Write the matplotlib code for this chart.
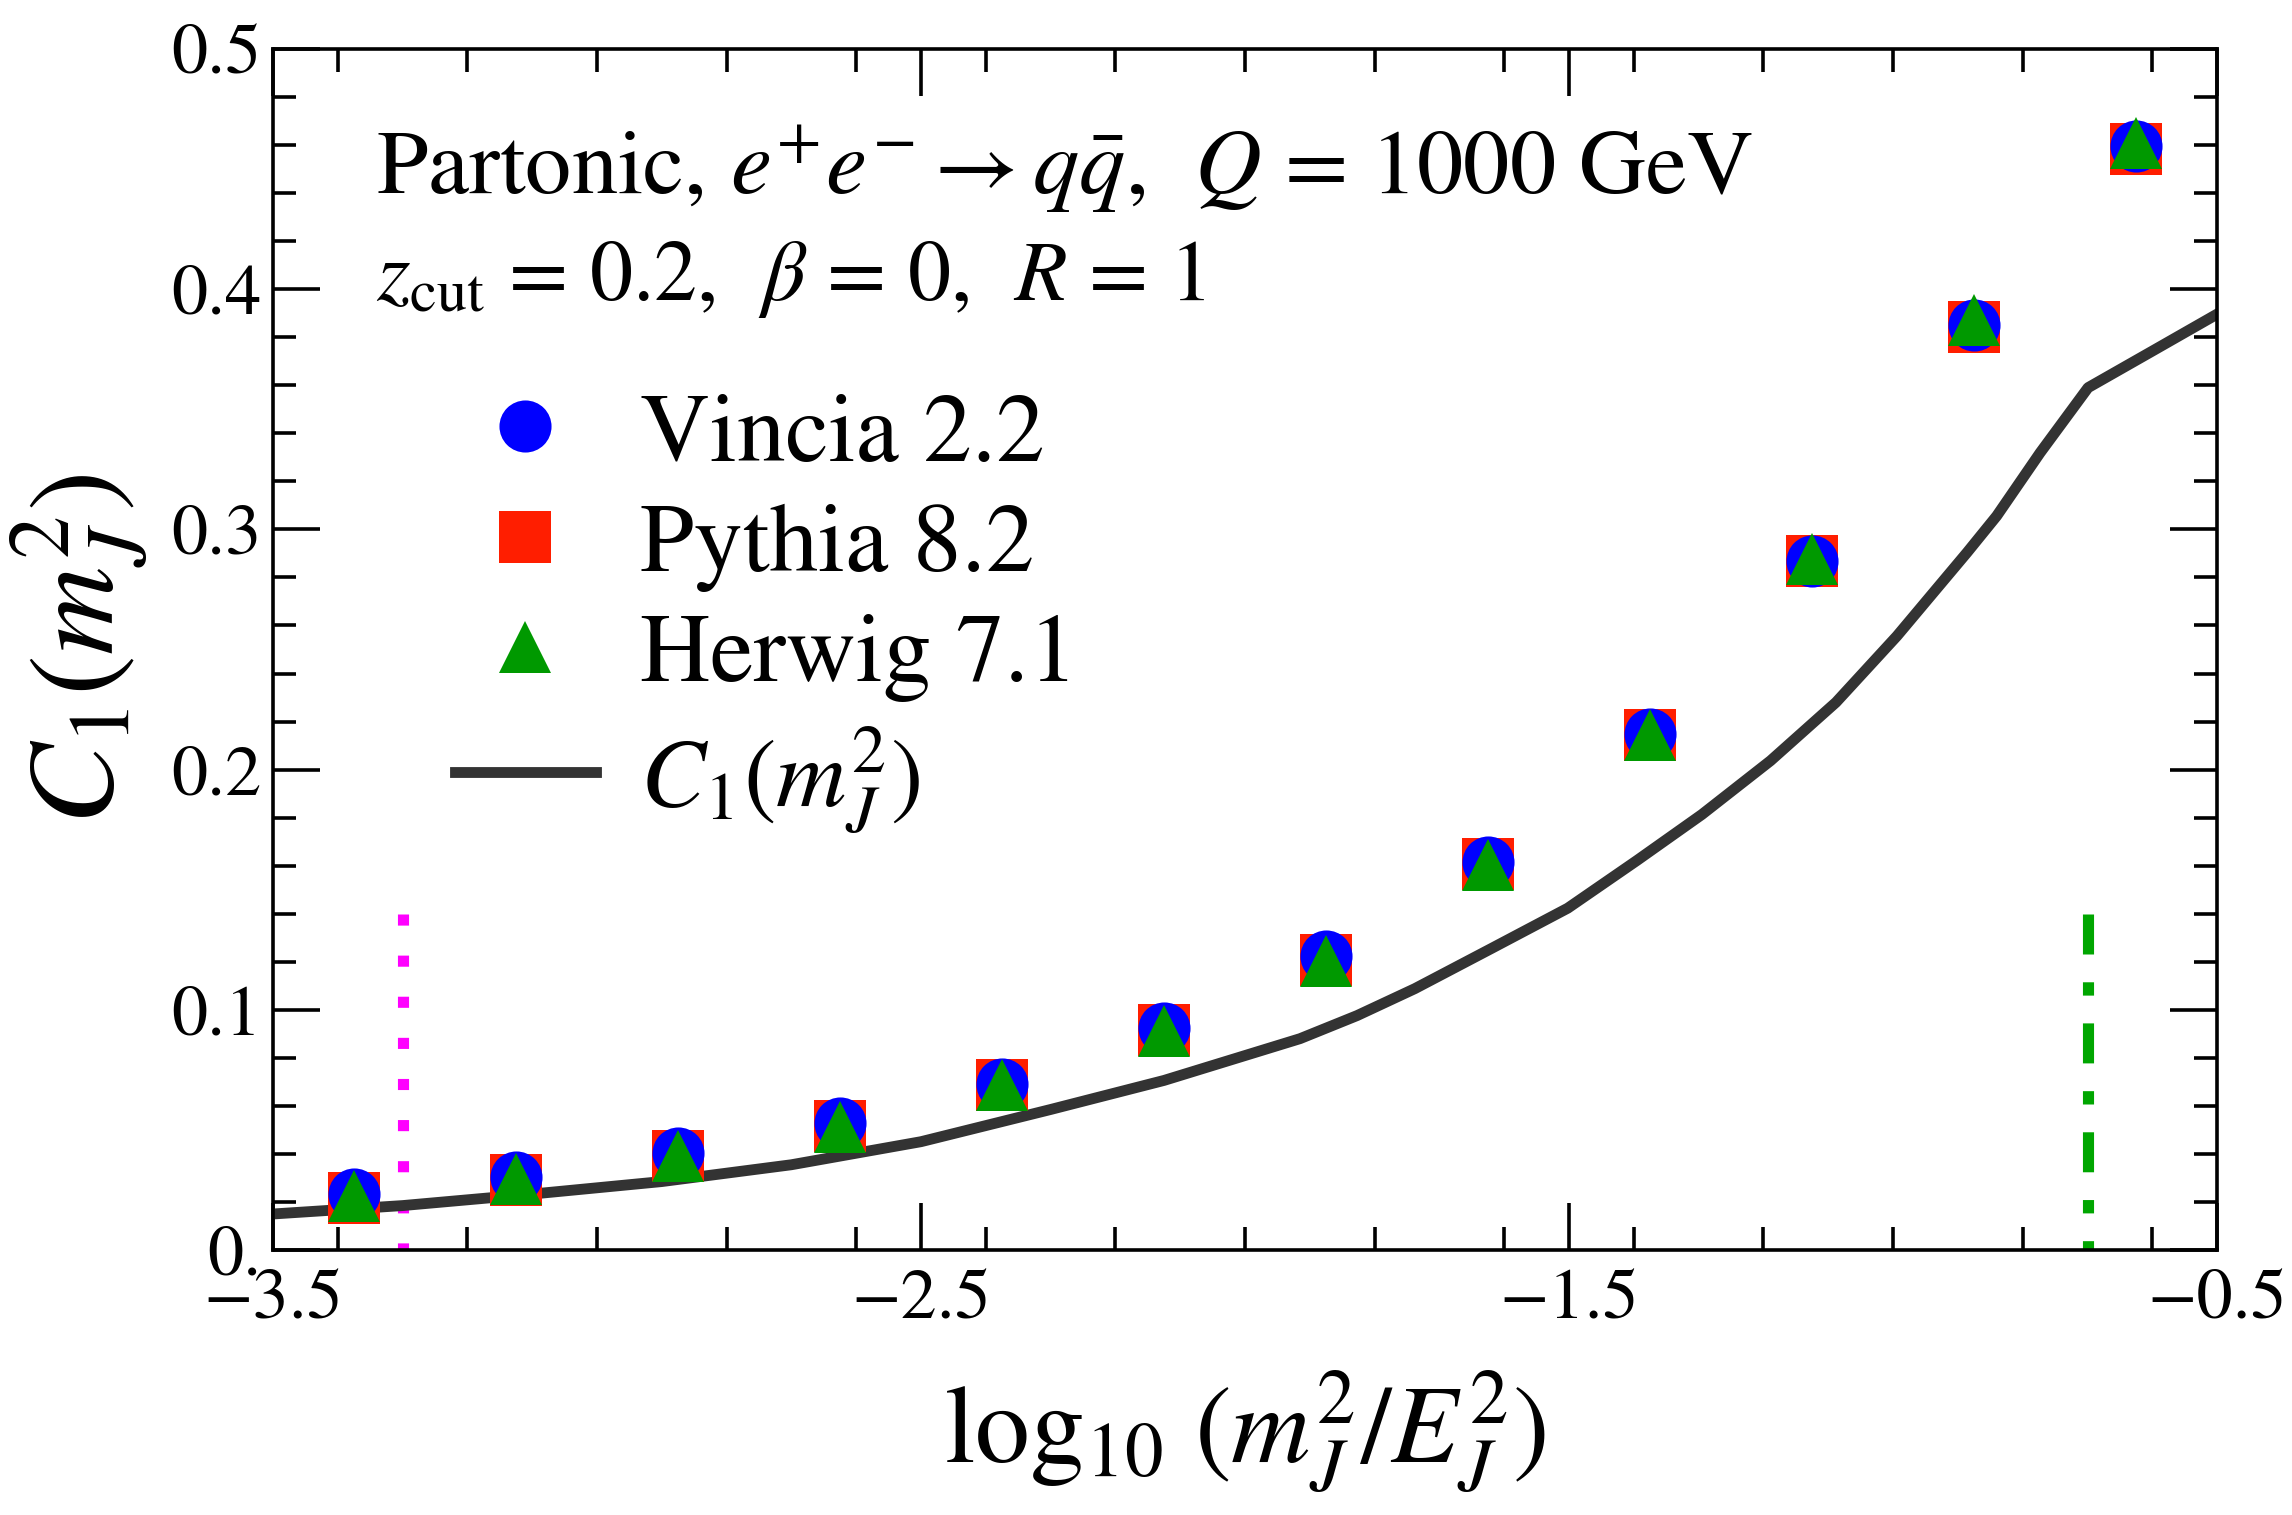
import numpy as np
import matplotlib
matplotlib.use("Agg")
import matplotlib.pyplot as plt
from matplotlib.ticker import FixedLocator, FixedFormatter, MultipleLocator

plt.rcParams['font.family'] = ['STIXGeneral', 'DejaVu Serif']
plt.rcParams['mathtext.fontset'] = 'stix'

# bin centres of log10(m_J^2/E_J^2)
x_bins = [-3.375, -3.125, -2.875, -2.625, -2.375, -2.125,
          -1.875, -1.625, -1.375, -1.125, -0.875, -0.625]

vincia = [0.0235, 0.0302, 0.0402, 0.0527, 0.0693, 0.0925,
          0.1222, 0.1616, 0.2150, 0.2870, 0.3850, 0.4597]
pythia = [0.0218, 0.0292, 0.0390, 0.0518, 0.0686, 0.0915,
          0.1209, 0.1609, 0.2144, 0.2868, 0.3842, 0.4585]
herwig = [0.0226, 0.0297, 0.0393, 0.0513, 0.0686, 0.0910,
          0.1205, 0.1604, 0.2144, 0.2877, 0.3871, 0.4608]

# analytic C1 curve
curve_x = [-3.5, -3.3, -3.1, -2.9, -2.7, -2.5, -2.3, -2.125, -1.915, -1.827,
           -1.738, -1.62, -1.502, -1.395, -1.295, -1.189, -1.088, -0.994,
           -0.938, -0.886, -0.84, -0.773, -0.699, -0.6, -0.5]
curve_y = [0.0150, 0.0185, 0.0233, 0.0285, 0.0355, 0.0451, 0.0585, 0.0706,
           0.0880, 0.0976, 0.1088, 0.1255, 0.1423, 0.1622, 0.1813, 0.2037,
           0.2280, 0.2556, 0.2736, 0.2903, 0.3056, 0.3319, 0.3590, 0.3742,
           0.3896]

pink_x = -3.3
green_x = -0.699
vline_top = 0.14

y_ticks = [0.0, 0.1, 0.2, 0.3, 0.4, 0.5]
y_labels = ['0.', '0.1', '0.2', '0.3', '0.4', '0.5']
x_ticks = [-3.5, -2.5, -1.5, -0.5]
x_labels = ['\u22123.5', '\u22122.5', '\u22121.5', '\u22120.5']

fig = plt.figure(figsize=(22.92, 15.15), dpi=100)
ax = fig.add_axes([0.1191, 0.1749, 0.8482, 0.7928])

ms = 37.5
ax.plot(curve_x, curve_y, color='#333333', lw=7.8, solid_joinstyle='round',
        label=r'$C_1(m_J^2)$', zorder=2)
ax.plot(x_bins, pythia, 's', color='#ff1e00', ms=ms, mew=0, label='Pythia 8.2', zorder=3)
ax.plot(x_bins, vincia, 'o', color='#0000ff', ms=ms, mew=0, label='Vincia 2.2', zorder=4)
ax.plot(x_bins, herwig, '^', color='#009900', ms=ms, mew=0, label='Herwig 7.1', zorder=5)

ax.plot([pink_x, pink_x], [vline_top, 0], color='#ff00ff', lw=8,
        linestyle=(0, (1, 2.7)), zorder=1)
ax.plot([green_x, green_x], [vline_top, 0], color='#00a600', lw=8,
        linestyle=(0, (3.6, 2.5, 1.2, 2.5)), zorder=1)

ax.set_xlim(-3.5, -0.5)
ax.set_ylim(0, 0.5)
ax.xaxis.set_major_locator(FixedLocator(x_ticks))
ax.xaxis.set_major_formatter(FixedFormatter(x_labels))
ax.xaxis.set_minor_locator(MultipleLocator(0.2))
ax.yaxis.set_major_locator(FixedLocator(y_ticks))
ax.yaxis.set_major_formatter(FixedFormatter(y_labels))
ax.yaxis.set_minor_locator(MultipleLocator(0.02))

ax.tick_params(which='both', direction='in', top=True, right=True, width=2.6,
               labelsize=52)
ax.tick_params(which='major', length=34)
ax.tick_params(which='minor', length=16.5)
ax.tick_params(axis='x', which='major', pad=14)
ax.tick_params(axis='y', which='major', pad=8)
for sp in ax.spines.values():
    sp.set_linewidth(2.6)

ax.set_xlabel(r'$\log_{10}\,(m_J^2/E_J^2)$', fontsize=79, labelpad=24)
ax.set_ylabel(r'$C_1(m_J^2)$', fontsize=88, labelpad=14)

ax.text(0.053, 0.880, r'Partonic, $e^{+}e^{-}\rightarrow q\bar{q}$,  $Q$ = 1000 GeV',
        transform=ax.transAxes, fontsize=66.5, va='baseline', ha='left')
ax.text(0.053, 0.791, r'$z_{\rm cut}$ = 0.2,  $\beta$ = 0,  $R$ = 1',
        transform=ax.transAxes, fontsize=62, va='baseline', ha='left')

handles, labels = ax.get_legend_handles_labels()
order = [2, 1, 3, 0]
leg = ax.legend([handles[i] for i in order], [labels[i] for i in order],
                loc='upper left', bbox_to_anchor=(0.0936, 0.714), frameon=False,
                fontsize=70, numpoints=1, handlelength=1.45, handletextpad=0.45,
                labelspacing=0.22, borderpad=0, borderaxespad=0)

fig.savefig('out.png', dpi=100)
